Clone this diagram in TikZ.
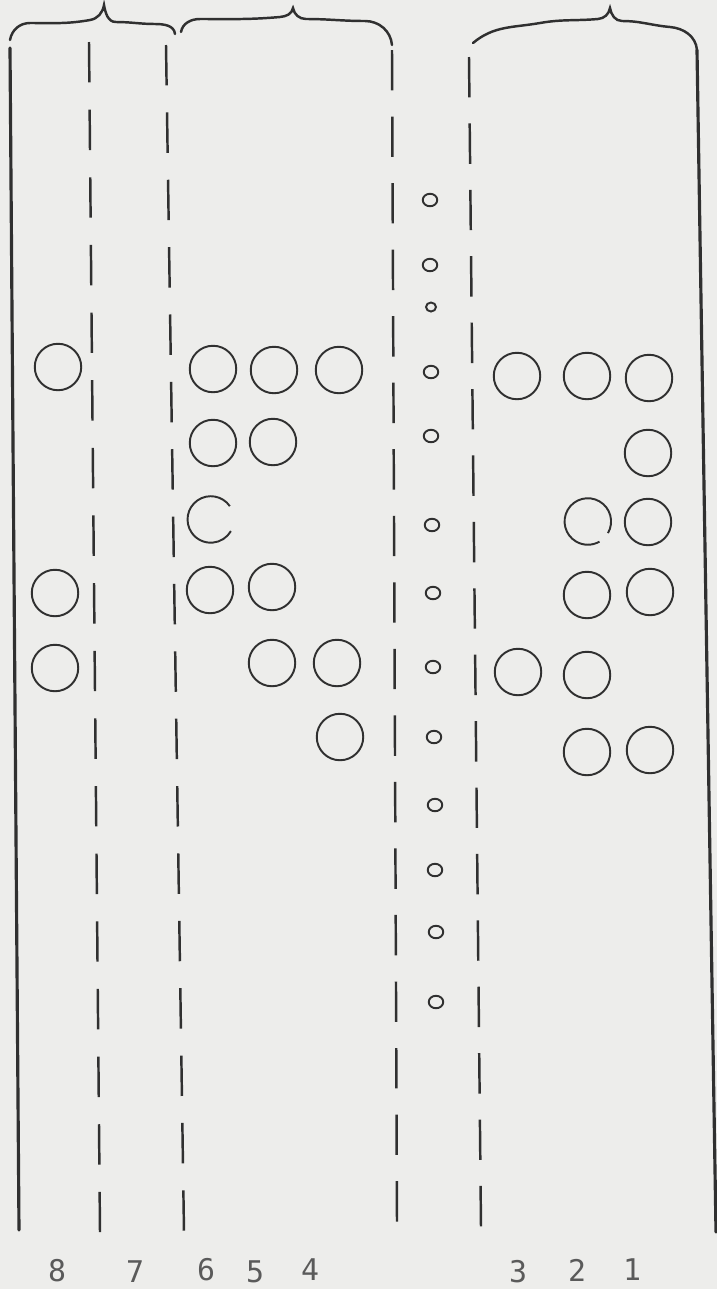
\documentclass[tikz,border=0pt]{standalone}
\usepackage{fontspec}
\usepackage{tikz}
\usetikzlibrary{shapes.geometric}
\newfontfamily\digitfont{DejaVu Sans Mono}
\definecolor{paper}{RGB}{237,237,235}
\definecolor{ink}{RGB}{48,48,48}

\begin{document}
\begin{tikzpicture}[
    x=0.02cm, y=-0.02cm,
    edge/.style={draw=ink, line width=1.8pt, line cap=round},
    guide/.style={draw=ink, line width=1.4pt, dash pattern=on 23pt off #1},
    guide/.default=15pt,
    brace/.style={draw=ink, line width=1.4pt, line cap=round},
    hole/.style={circle, draw=ink, line width=1.1pt, minimum size=0.93cm, inner sep=0pt},
    feed/.style={ellipse, draw=ink, line width=1.1pt, minimum width=0.29cm, minimum height=0.25cm, inner sep=0pt},
    digit/.style={font=\digitfont\fontsize{17}{17}\selectfont, text=ink!80}
]

% PAPER
\fill[paper] (0,0) rectangle (717,1289);
\useasboundingbox (0,0) rectangle (717,1289);

% TAPE EDGES
\coordinate (edge_l_top) at (10,48);
\coordinate (edge_l_bot) at (19,1230);
\coordinate (edge_r_top) at (697,50);
\coordinate (edge_r_bot) at (716,1232);
\draw[edge] (edge_l_top) -- (edge_l_bot);
\draw[edge] (edge_r_top) -- (edge_r_bot);

% Dashed guides between the channel groups
\coordinate (guide7_top) at (89,42);
\coordinate (guide7_bot) at (100,1232);
\coordinate (guide6_top) at (166,45);
\coordinate (guide6_bot) at (184,1232);
\coordinate (feed_l_top) at (392,50);
\coordinate (feed_l_bot) at (397,1222);
\coordinate (feed_r_top) at (469,57);
\coordinate (feed_r_bot) at (481,1227);
\draw[guide=15.5pt] (guide7_top) -- (guide7_bot);
\draw[guide=15.35pt] (guide6_top) -- (guide6_bot);
\draw[guide=14.87pt] (feed_l_top) -- (feed_l_bot);
\draw[guide=14.8pt] (feed_r_top) -- (feed_r_bot);

% BRACES
% channels 8-7
\draw[brace] (10,40) to[out=80,in=180] (30,23) to[out=0,in=190] (90,20)
    to[out=10,in=-100] (104,5) to[out=-80,in=180] (116,22)
    to[out=0,in=180] (155,24) to[out=0,in=95] (175,34);
% channels 6-4
\draw[brace] (181,32) to[out=80,in=180] (200,19) to[out=0,in=185] (280,17)
    to[out=5,in=-100] (293,8) to[out=-80,in=180] (306,19)
    to[out=0,in=180] (365,21) to[out=0,in=95] (392,45);
% channels 3-1
\draw[brace] (473,43) to[out=40,in=190] (540,23) to[out=10,in=185] (598,19)
    to[out=5,in=-100] (610,8) to[out=-80,in=180] (622,21)
    to[out=0,in=175] (670,27) to[out=-5,in=95] (697,50);

% FEED HOLES
\node[feed] (feed_1) at (430,200) {};
\node[feed] (feed_2) at (430,265) {};
\node[feed, minimum width=0.2cm, minimum height=0.18cm] (feed_3) at (431,307) {};
\node[feed] (feed_4) at (431,372) {};
\node[feed] (feed_5) at (431,436) {};
\node[feed] (feed_6) at (432,525) {};
\node[feed] (feed_7) at (433,593) {};
\node[feed] (feed_8) at (433,667) {};
\node[feed] (feed_9) at (434,737) {};
\node[feed] (feed_10) at (435,805) {};
\node[feed] (feed_11) at (435,870) {};
\node[feed] (feed_12) at (436,932) {};
\node[feed] (feed_13) at (436,1002) {};

% CODE HOLES
% row a
\node[hole] (hole_a8) at (58,367) {};
\node[hole] (hole_a6) at (213,369) {};
\node[hole] (hole_a5) at (274,370) {};
\node[hole] (hole_a4) at (339,370) {};
\node[hole] (hole_a3) at (517,376) {};
\node[hole] (hole_a2) at (587,376) {};
\node[hole] (hole_a1) at (649,378) {};
% row b
\node[hole] (hole_b6) at (213,443) {};
\node[hole] (hole_b5) at (273,442) {};
\node[hole] (hole_b1) at (648,453) {};
% row c (6 and 2 are left open)
\node[hole, draw=none] (hole_c6) at (210,520) {};
\draw[ink, line width=1.1pt] (hole_c6.35) arc[start angle=35, end angle=330, radius=0.465cm];
\node[hole, draw=none] (hole_c2) at (587,521) {};
\draw[ink, line width=1.1pt] (hole_c2.330) arc[start angle=-30, end angle=300, radius=0.465cm];
\node[hole] (hole_c1) at (648,522) {};
% row d
\node[hole] (hole_d8) at (55,593) {};
\node[hole] (hole_d6) at (210,590) {};
\node[hole] (hole_d5) at (272,587) {};
\node[hole] (hole_d2) at (587,595) {};
\node[hole] (hole_d1) at (650,592) {};
% row e
\node[hole] (hole_e8) at (55,668) {};
\node[hole] (hole_e5) at (272,663) {};
\node[hole] (hole_e4) at (337,663) {};
\node[hole] (hole_e3) at (518,672) {};
\node[hole] (hole_e2) at (587,675) {};
% row f
\node[hole] (hole_f4) at (340,737) {};
\node[hole] (hole_f2) at (587,752) {};
\node[hole] (hole_f1) at (650,750) {};

% CHANNEL NUMBERS
\node[digit] (num8) at (57,1271) {8};
\node[digit] (num7) at (135,1272) {7};
\node[digit] (num6) at (206,1270) {6};
\node[digit] (num5) at (255,1272) {5};
\node[digit] (num4) at (310,1270) {4};
\node[digit] (num3) at (518,1272) {3};
\node[digit] (num2) at (577,1270) {2};
\node[digit] (num1) at (632,1270) {1};

\end{tikzpicture}
\end{document}
